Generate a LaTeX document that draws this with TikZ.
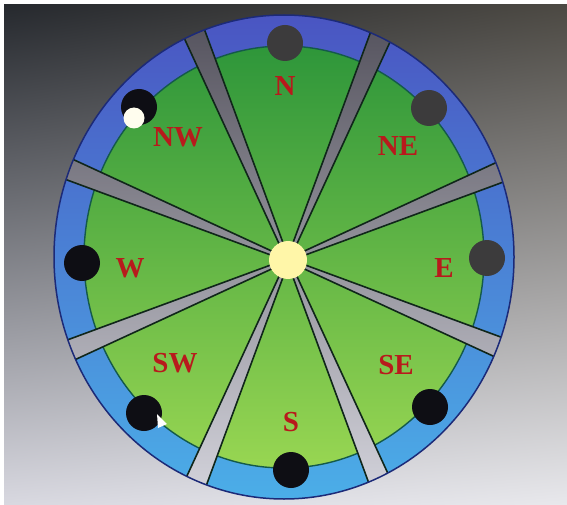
\documentclass[tikz,border=0pt]{standalone}
\usepackage{fontspec}
\setmainfont{Liberation Serif}
\usepackage{xcolor}
\usepackage{tikz}
\usetikzlibrary{calc,shadings}

\definecolor{bgul}{HTML}{26292E}
\definecolor{bgur}{HTML}{4C4943}
\definecolor{bgll}{HTML}{D8D8E0}
\definecolor{bglr}{HTML}{E8E8EC}
\definecolor{blueTop}{HTML}{4A55C2}
\definecolor{blueMid}{HTML}{5878D6}
\definecolor{blueBot}{HTML}{4BAEE8}
\definecolor{greenTop}{HTML}{2E963A}
\definecolor{greenMid}{HTML}{4CBB44}
\definecolor{greenBot}{HTML}{98D652}
\definecolor{grayTop}{HTML}{53515C}
\definecolor{grayMid}{HTML}{8E8E98}
\definecolor{grayBot}{HTML}{D4D4DC}
\definecolor{rimnavy}{HTML}{1C2A78}
\definecolor{rimteal}{HTML}{145A4A}
\definecolor{edgedark}{HTML}{10261A}
\definecolor{hubyellow}{HTML}{FFF6A8}
\definecolor{dotgray}{HTML}{3C3B3C}
\definecolor{dotblack}{HTML}{0E0E14}
\definecolor{labelred}{HTML}{B81A1C}

\begin{document}
\begin{tikzpicture}[
    x=1pt, y=1pt,
    dot/.style={circle,inner sep=0pt,minimum size=36pt},
    lbl/.style={font=\fontsize{29}{29}\selectfont\bfseries,
        text=labelred,inner sep=0pt},
    wedgeline/.style={draw=edgedark,line width=1.6pt}
]

\useasboundingbox (0,0) rectangle (567,504);

% Backdrop (screen photo)
\fill[white] (0,0) rectangle (567,504);
\shade[upper left=bgul,upper right=bgur,
    lower left=bgll,lower right=bglr]
    (4,0) rectangle (567,499);

% Centres
\coordinate (C) at (284,247);
\coordinate (H) at (288,244);

% Blue rim
\shade[top color=blueTop,middle color=blueMid,bottom color=blueBot]
    (C) ellipse [x radius=230pt,y radius=242pt];

% Green disc
\shade[top color=greenTop,middle color=greenMid,bottom color=greenBot]
    (C) ellipse [x radius=200pt,y radius=211pt];
\draw[rimteal,line width=1.4pt]
    (C) ellipse [x radius=200pt,y radius=211pt];

% Gray spokes
\begin{scope}
\clip (C) ellipse [x radius=230pt,y radius=242pt];
\foreach \a in {22.5,67.5,...,337.5} {
    \begin{scope}
    \clip ($(H)+(\a:18)+(\a+90:2)$)
        -- ($(H)+(\a:270)+(\a+90:12)$)
        -- ($(H)+(\a:270)+(\a-90:12)$)
        -- ($(H)+(\a:18)+(\a-90:2)$)
        -- cycle;
    \shade[top color=grayTop,middle color=grayMid,bottom color=grayBot]
        (54,5) rectangle (514,489);
    \end{scope}
    \draw[wedgeline] ($(H)+(\a:18)+(\a+90:2)$)
        -- ($(H)+(\a:270)+(\a+90:12)$);
    \draw[wedgeline] ($(H)+(\a:18)+(\a-90:2)$)
        -- ($(H)+(\a:270)+(\a-90:12)$);
}
\end{scope}

\draw[rimnavy,line width=1.5pt]
    (C) ellipse [x radius=230pt,y radius=242pt];

% Hub
\node[circle,fill=hubyellow,inner sep=0pt,minimum size=38pt]
    (hub) at (H) {};

% Markers on the rim
\foreach \n/\x/\y/\c in {
    N/285/461/dotgray,
    NE/429/396/dotgray,
    E/487/246/dotgray,
    SE/430/97/dotblack,
    S/291/34/dotblack,
    SW/144/91/dotblack,
    W/82/241/dotblack,
    NW/139/397/dotblack} {
    \node[dot,fill=\c] (d\n) at (\x,\y) {};
}

% Light spot and pointer
\node[circle,fill=white!80!hubyellow,inner sep=0pt,minimum size=21pt]
    (spot) at (134,386) {};
\fill[white] (157,90) -- (158,76) -- (167,80) -- cycle;

% Compass labels
\node[lbl] (lN)  at (285,418) {N};
\node[lbl] (lNE) at (398,358) {NE};
\node[lbl] (lE)  at (444,236) {E};
\node[lbl] (lSE) at (396,139) {SE};
\node[lbl] (lS)  at (291,82)  {S};
\node[lbl] (lSW) at (175,141) {SW};
\node[lbl] (lW)  at (130,236) {W};
\node[lbl] (lNW) at (178,367) {NW};

\end{tikzpicture}
\end{document}
